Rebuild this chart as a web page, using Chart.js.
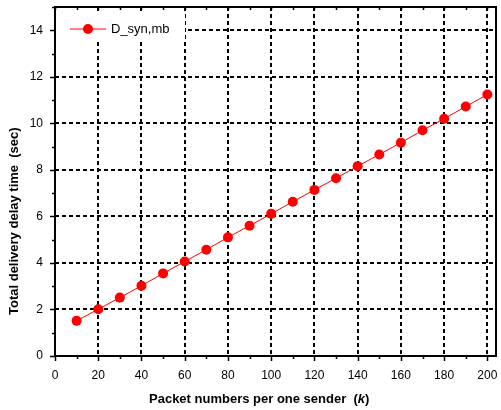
<!DOCTYPE html>
<html>
<head>
<meta charset="utf-8">
<script src="https://cdn.jsdelivr.net/npm/chart.js@4/dist/chart.umd.min.js"></script>
<style>
  body { margin: 0; background: #fff; }
  canvas { display: block; }
</style>
</head>
<body>
<canvas id="chart" width="501" height="410"></canvas>
<script>
const packetNumbers = [10, 20, 30, 40, 50, 60, 70, 80, 90, 100, 110, 120, 130, 140, 150, 160, 170, 180, 190, 200];
const delayTimes = [1.51, 2.01, 2.51, 3.02, 3.55, 4.06, 4.57, 5.10, 5.60, 6.11, 6.63, 7.14, 7.64, 8.16, 8.66, 9.17, 9.70, 10.20, 10.72, 11.24];
const xTicks = [0, 20, 40, 60, 80, 100, 120, 140, 160, 180, 200];
const yTicks = [0, 2, 4, 6, 8, 10, 12, 14];
const seriesName = 'D_syn,mb';
const yTitle = 'Total delivery delay time  (sec)';

const FONT = '"Liberation Sans", Arial, sans-serif';

const frame = {
    id: 'frame',
    beforeDatasetsDraw(chart) {
        const ctx = chart.ctx;
        const a = chart.chartArea;
        const xs = chart.scales.x, ys = chart.scales.y;
        ctx.save();
        ctx.strokeStyle = '#000';
        ctx.lineWidth = 2;
        ctx.setLineDash([4, 3]);
        xTicks.forEach(v => {
            if (v === 0) return;
            const px = Math.round(xs.getPixelForValue(v));
            ctx.beginPath();
            ctx.moveTo(px, a.top);
            ctx.lineTo(px, a.bottom);
            ctx.stroke();
        });
        yTicks.forEach(v => {
            if (v === 0) return;
            const py = Math.round(ys.getPixelForValue(v));
            ctx.beginPath();
            ctx.moveTo(a.left, py);
            ctx.lineTo(a.right, py);
            ctx.stroke();
        });
        ctx.setLineDash([]);

        // legend box covers the grid
        ctx.fillStyle = '#fff';
        ctx.fillRect(a.left + 1, 14, 129, 28);

        // axes
        ctx.lineWidth = 2;
        ctx.strokeRect(a.left, a.top, a.right - a.left, a.bottom - a.top);

        ctx.lineWidth = 1.5;
        ctx.beginPath();
        for (let v = 0; v <= 200; v += 10) {
            const px = Math.round(xs.getPixelForValue(v)) + 0.5;
            const major = v % 20 === 0;
            ctx.moveTo(px, a.bottom);
            ctx.lineTo(px, a.bottom + (major ? 5 : 3));
            ctx.moveTo(px, a.top);
            ctx.lineTo(px, a.top + 3);
        }
        for (let v = 0; v <= 15; v += 1) {
            const py = Math.round(ys.getPixelForValue(v)) + 0.5;
            const major = v % 2 === 0;
            ctx.moveTo(a.left, py);
            ctx.lineTo(a.left - (major ? 5 : 3), py);
        }
        ctx.stroke();
        ctx.restore();
    },
    afterDraw(chart) {
        const ctx = chart.ctx;
        ctx.save();
        // legend entry
        ctx.strokeStyle = '#ff0000';
        ctx.lineWidth = 1;
        ctx.beginPath();
        ctx.moveTo(70, 29);
        ctx.lineTo(106, 29);
        ctx.stroke();
        ctx.fillStyle = '#ff0000';
        ctx.beginPath();
        ctx.arc(88, 29, 5, 0, Math.PI * 2);
        ctx.fill();
        ctx.fillStyle = '#000';
        ctx.font = '13px ' + FONT;
        ctx.textBaseline = 'middle';
        ctx.fillText(seriesName, 111, 29);

        // x axis title with italic k
        const parts = [
            ['bold 13px ' + FONT, 'Packet numbers per one sender  ('],
            ['italic bold 13px ' + FONT, 'k'],
            ['bold 13px ' + FONT, ')']
        ];
        let x = 149;
        parts.forEach(p => {
            ctx.font = p[0];
            ctx.fillText(p[1], x, 399);
            x += ctx.measureText(p[1]).width;
        });

        // y axis title
        ctx.translate(14, 315);
        ctx.rotate(-Math.PI / 2);
        ctx.font = 'bold 13px ' + FONT;
        ctx.textAlign = 'left';
        ctx.fillText(yTitle, 0, 0);
        ctx.restore();
    }
};

function noPad(scale) {
    scale.paddingLeft = 0;
    scale.paddingRight = 0;
    scale.paddingTop = 0;
    scale.paddingBottom = 0;
}

new Chart(document.getElementById('chart'), {
    type: 'line',
    data: {
        datasets: [{
            label: seriesName,
            data: packetNumbers.map((x, i) => ({ x: x, y: delayTimes[i] })),
            borderColor: '#ff0000',
            backgroundColor: '#ff0000',
            borderWidth: 1,
            pointRadius: 5,
            pointHoverRadius: 5,
            pointBorderWidth: 0,
            fill: false,
            tension: 0
        }]
    },
    options: {
        responsive: false,
        animation: false,
        layout: { padding: { top: 7, right: 2, left: 0, bottom: 0 } },
        plugins: {
            legend: { display: false },
            tooltip: { enabled: false }
        },
        scales: {
            x: {
                type: 'linear',
                min: 0,
                max: 204,
                afterBuildTicks: scale => { scale.ticks = xTicks.map(v => ({ value: v })); },
                afterFit: scale => { scale.height = 54; noPad(scale); },
                grid: { display: false, drawTicks: false },
                border: { display: false },
                ticks: {
                    color: '#000',
                    padding: 12,
                    maxRotation: 0,
                    autoSkip: false,
                    font: { family: FONT, size: 12 }
                }
            },
            y: {
                min: 0,
                max: 15,
                afterBuildTicks: scale => { scale.ticks = yTicks.map(v => ({ value: v })); },
                afterFit: scale => { scale.width = 55; noPad(scale); },
                grid: { display: false, drawTicks: false },
                border: { display: false },
                ticks: {
                    color: '#000',
                    padding: 12,
                    autoSkip: false,
                    font: { family: FONT, size: 12 }
                }
            }
        }
    },
    plugins: [frame]
});
</script>
</body>
</html>
